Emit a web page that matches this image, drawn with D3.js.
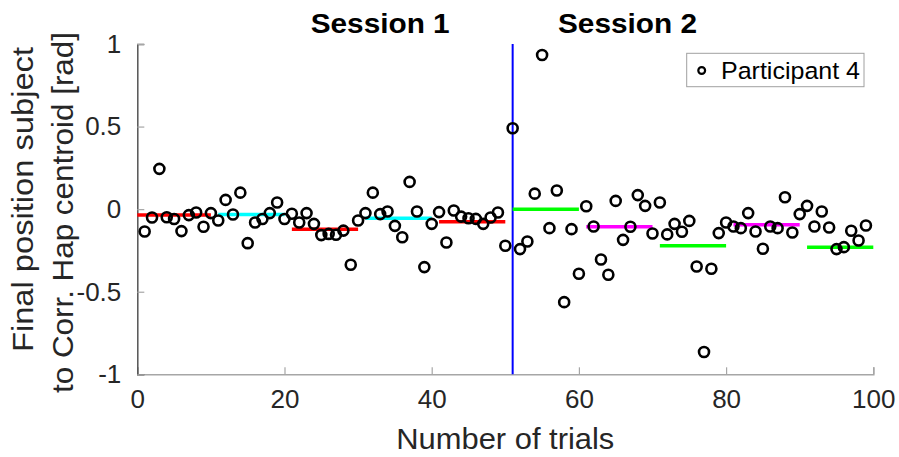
<!DOCTYPE html>
<html>
<head>
<meta charset="utf-8">
<script src="https://cdn.jsdelivr.net/npm/d3@7"></script>
<style>
  html, body { margin: 0; padding: 0; background: #fff; }
  svg { display: block; font-family: "Liberation Sans", Arial, Helvetica, sans-serif; }
</style>
</head>
<body>
<svg id="chart" width="899" height="457"></svg>
<script>
// ---- data ----
const trials = d3.range(1, 100);
const values = [
  -0.135, -0.051, 0.244, -0.049, -0.060, -0.133, -0.036, -0.020, -0.107, -0.024,
  -0.069, 0.056, -0.032, 0.100, -0.206, -0.081, -0.060, -0.024, 0.040, -0.060,
  -0.028, -0.081, -0.024, -0.089, -0.157, -0.150, -0.155, -0.130, -0.337, -0.069,
  -0.024, 0.100, -0.030, -0.014, -0.101, -0.170, 0.165, -0.014, -0.351, -0.089,
  -0.018, -0.202, -0.008, -0.045, -0.055, -0.059, -0.089, -0.051, -0.020, -0.222,
  0.490, -0.242, -0.196, 0.094, 0.933, -0.115, 0.113, -0.563, -0.121, -0.391,
  0.018, -0.105, -0.305, -0.397, 0.050, -0.186, -0.107, 0.085, 0.020, -0.147,
  0.040, -0.153, -0.089, -0.137, -0.071, -0.347, -0.865, -0.361, -0.145, -0.081,
  -0.105, -0.115, -0.024, -0.135, -0.240, -0.105, -0.115, 0.072, -0.141, -0.030,
  0.020, -0.105, -0.014, -0.111, -0.242, -0.230, -0.131, -0.190, -0.099
];
const segStart = [0, 11, 21, 31, 41, 51, 61, 71, 81, 91];
const segEnd   = [10, 20, 30, 40, 50, 60, 70, 80, 90, 100];
const segMean  = [-0.035, -0.032, -0.121, -0.055, -0.077, 0.000, -0.107, -0.222, -0.095, -0.230];
const segColor = ["#ff0000", "#00ffff", "#ff0000", "#00ffff", "#ff0000",
                  "#00ff00", "#ff00ff", "#00ff00", "#ff00ff", "#00ff00"];
const sessionSplit = 51;
const xTicks = [0, 20, 40, 60, 80, 100];
const yTicks = [-1, -0.5, 0, 0.5, 1];
const yTickLabels = ["-1", "-0.5", "0", "0.5", "1"];
const sessionTitles = ["Session 1", "Session 2"];
const legendLabel = "Participant 4";

// ---- layout ----
const svg = d3.select("#chart");
const x = d3.scaleLinear().domain([0, 100]).range([137.3, 873.3]);
const y = d3.scaleLinear().domain([-1, 1]).range([374.3, 44]);
const font = '"Liberation Sans", Arial, Helvetica, sans-serif';
const textCol = "#262626";

// x axis
const xAxis = d3.axisBottom(x).tickValues(xTicks).tickSize(-7).tickPadding(15)
  .tickFormat(d3.format("d"));
const gx = svg.append("g").attr("transform", `translate(0,${y(-1)})`).call(xAxis);
gx.select(".domain").attr("stroke", "#a6a6a6").attr("stroke-width", 1.5);
gx.selectAll(".tick line").attr("stroke", "#a6a6a6").attr("stroke-width", 1.2);
gx.selectAll(".tick text").attr("font-size", 26).attr("fill", textCol)
  .attr("font-family", font).attr("dy", "0.71em");

// y axis
const yAxis = d3.axisLeft(y).tickValues(yTicks).tickSize(-7).tickPadding(16)
  .tickFormat((d, i) => yTickLabels[i]);
const gy = svg.append("g").attr("transform", `translate(${x(0)},0)`).call(yAxis);
gy.select(".domain").attr("stroke", "#555555").attr("stroke-width", 1.5);
gy.selectAll(".tick line").attr("stroke", "#a6a6a6").attr("stroke-width", 1.2);
gy.selectAll(".tick text").attr("font-size", 26).attr("fill", textCol)
  .attr("font-family", font);

// session split line
svg.append("line")
  .attr("x1", x(sessionSplit)).attr("x2", x(sessionSplit))
  .attr("y1", y(1)).attr("y2", y(-1))
  .attr("stroke", "#0000ff").attr("stroke-width", 2);

// segment mean lines
svg.append("g").selectAll("line").data(segMean).join("line")
  .attr("x1", (d, i) => x(segStart[i])).attr("x2", (d, i) => x(segEnd[i]))
  .attr("y1", d => y(d)).attr("y2", d => y(d))
  .attr("stroke", (d, i) => segColor[i]).attr("stroke-width", 3.5);

// points
svg.append("g").selectAll("circle").data(values).join("circle")
  .attr("cx", (d, i) => x(trials[i])).attr("cy", d => y(d))
  .attr("r", 5).attr("fill", "none").attr("stroke", "#000").attr("stroke-width", 2.6);

// titles
const titleX = [33, 66.6];
svg.selectAll("text.title").data(sessionTitles).join("text")
  .attr("class", "title")
  .attr("x", (d, i) => x(titleX[i])).attr("y", 33)
  .attr("text-anchor", "middle").attr("font-size", 28).attr("font-weight", "bold")
  .attr("font-family", font).attr("fill", "#000")
  .attr("textLength", 139).attr("lengthAdjust", "spacingAndGlyphs")
  .text(d => d);

// axis labels
svg.append("text").attr("x", (x(0) + x(100)) / 2).attr("y", 449)
  .attr("text-anchor", "middle").attr("font-size", 29).attr("fill", textCol)
  .attr("font-family", font)
  .attr("textLength", 218).attr("lengthAdjust", "spacingAndGlyphs")
  .text("Number of trials");
svg.append("text").attr("transform", "translate(33,199.5) rotate(-90)")
  .attr("text-anchor", "middle").attr("font-size", 30).attr("fill", textCol)
  .attr("font-family", font)
  .attr("textLength", 305).attr("lengthAdjust", "spacingAndGlyphs")
  .text("Final position subject");
svg.append("text").attr("transform", "translate(73,212.5) rotate(-90)")
  .attr("text-anchor", "middle").attr("font-size", 30).attr("fill", textCol)
  .attr("font-family", font)
  .attr("textLength", 361).attr("lengthAdjust", "spacingAndGlyphs")
  .text("to Corr. Hap centroid [rad]");

// legend
const lg = svg.append("g");
lg.append("rect").attr("x", 686.7).attr("y", 53.3).attr("width", 177.3).attr("height", 33.4)
  .attr("fill", "#fff").attr("stroke", "#a0a0a0").attr("stroke-width", 1);
lg.append("circle").attr("cx", 701.7).attr("cy", 70.5).attr("r", 3.4)
  .attr("fill", "none").attr("stroke", "#000").attr("stroke-width", 2.2);
lg.append("text").attr("x", 721).attr("y", 79).attr("font-size", 24.5)
  .attr("font-family", font).attr("fill", "#000")
  .attr("textLength", 139).attr("lengthAdjust", "spacingAndGlyphs")
  .text(legendLabel);
</script>
</body>
</html>
